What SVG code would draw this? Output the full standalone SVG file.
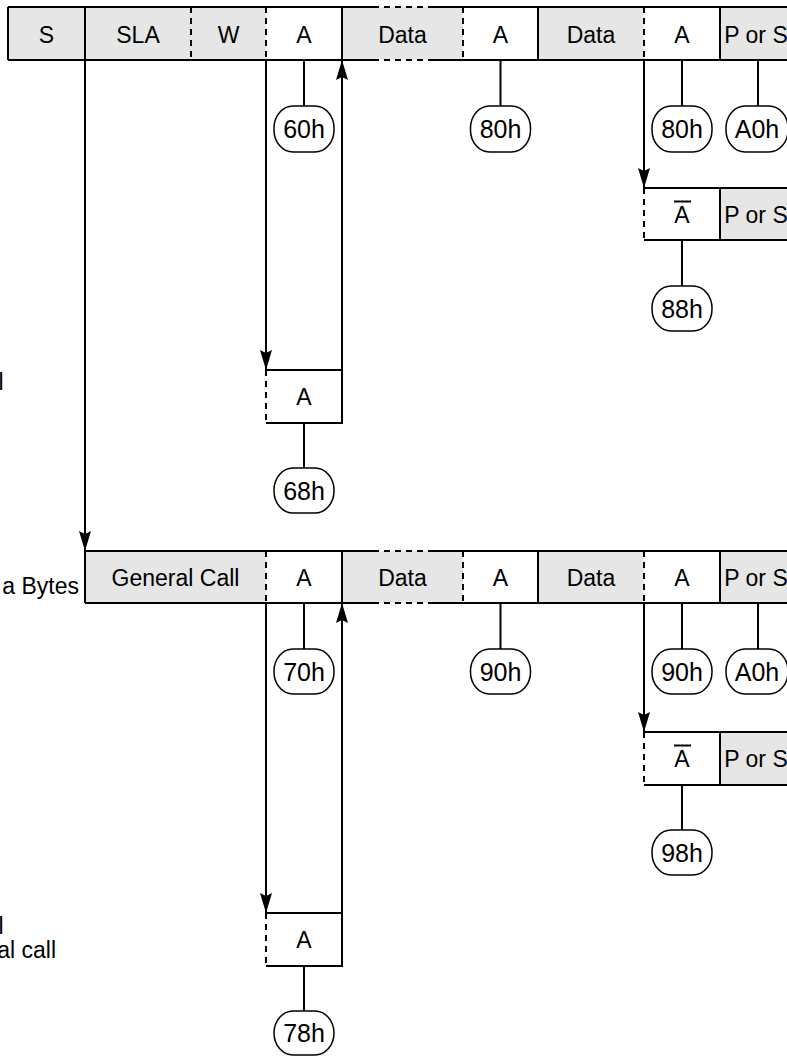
<svg xmlns="http://www.w3.org/2000/svg" width="787" height="1057" viewBox="0 0 787 1057">
<style>
text{font-family:"Liberation Sans",Arial,Helvetica,sans-serif;fill:#000}
.t{font-size:23px;text-anchor:middle}
.n{font-size:25px;text-anchor:middle}
.l{font-size:23px;text-anchor:end}
.g{fill:#e6e6e6;stroke:none}
.w{fill:#fff;stroke:none}
.s{stroke:#000;stroke-width:2;fill:none}
.d{stroke:#000;stroke-width:2;fill:none;stroke-dasharray:6 5}
.c{stroke:#000;stroke-width:2;fill:none}
.o{fill:#fff;stroke:#000;stroke-width:1.5}
</style>
<defs>
<marker id="ah" viewBox="0 0 20 12" refX="20" refY="6" markerWidth="20" markerHeight="12" markerUnits="userSpaceOnUse" orient="auto">
<path d="M0,0 L20,6 L0,12 L3,6 z" fill="#000"/>
</marker>
</defs>

<g id="row1">
<rect class="g" x="8" y="7" width="258" height="53"/>
<rect class="w" x="266" y="7" width="76" height="53"/>
<rect class="g" x="342" y="7" width="121" height="53"/>
<rect class="w" x="463" y="7" width="75" height="53"/>
<rect class="g" x="538" y="7" width="106" height="53"/>
<rect class="w" x="644" y="7" width="76" height="53"/>
<rect class="g" x="720" y="7" width="80" height="53"/>
<path class="s" d="M8,7H373M430,7H800M8,60H373M430,60H800M8,7V60M85,7V60M342,7V60M538,7V60M720,7V60"/>
<path class="d" d="M373,7H430M373,60H430M191,7V60M266,7V60M463,7V60M644,7V60"/>
<text class="t" x="46.5" y="42.5">S</text>
<text class="t" x="138" y="42.5">SLA</text>
<text class="t" x="228.5" y="42.5">W</text>
<text class="t" x="304" y="42.5">A</text>
<text class="t" x="402.5" y="42.5">Data</text>
<text class="t" x="500.5" y="42.5">A</text>
<text class="t" x="591" y="42.5">Data</text>
<text class="t" x="682" y="42.5">A</text>
<text class="t" x="756" y="42.5">P or S</text>
</g>

<g id="row2">
<rect class="g" x="85" y="551" width="181" height="52"/>
<rect class="w" x="266" y="551" width="76" height="52"/>
<rect class="g" x="342" y="551" width="121" height="52"/>
<rect class="w" x="463" y="551" width="75" height="52"/>
<rect class="g" x="538" y="551" width="106" height="52"/>
<rect class="w" x="644" y="551" width="76" height="52"/>
<rect class="g" x="720" y="551" width="80" height="52"/>
<path class="s" d="M85,551H373M430,551H800M85,603H373M430,603H800M85,551V603M342,551V603M538,551V603M720,551V603"/>
<path class="d" d="M373,551H430M373,603H430M266,551V603M463,551V603M644,551V603"/>
<text class="t" x="175.5" y="585.5">General Call</text>
<text class="t" x="304" y="585.5">A</text>
<text class="t" x="402.5" y="585.5">Data</text>
<text class="t" x="500.5" y="585.5">A</text>
<text class="t" x="591" y="585.5">Data</text>
<text class="t" x="682" y="585.5">A</text>
<text class="t" x="756" y="585.5">P or S</text>
</g>

<g id="nack1">
<rect class="w" x="644" y="188" width="76" height="52"/>
<rect class="g" x="720" y="188" width="80" height="52"/>
<path class="s" d="M644,188H800M644,240H800M720,188V240"/>
<path class="d" d="M644,188V240"/>
<text class="t" x="682" y="222.5">A</text>
<path class="c" d="M674,201.5H691" stroke-width="1.5"/>
<text class="t" x="756" y="222.5">P or S</text>
</g>

<g id="nack2">
<rect class="w" x="644" y="732" width="76" height="53"/>
<rect class="g" x="720" y="732" width="80" height="53"/>
<path class="s" d="M644,732H800M644,785H800M720,732V785"/>
<path class="d" d="M644,732V785"/>
<text class="t" x="682" y="767">A</text>
<path class="c" d="M674,745.5H691" stroke-width="1.5"/>
<text class="t" x="756" y="767">P or S</text>
</g>

<g id="ack1">
<rect class="w" x="266" y="370" width="76" height="53"/>
<path class="s" d="M266,370H342V423H266"/>
<path class="d" d="M266,370V423"/>
<text class="t" x="304" y="405">A</text>
</g>

<g id="ack2">
<rect class="w" x="266" y="913" width="76" height="53"/>
<path class="s" d="M266,913H342V966H266"/>
<path class="d" d="M266,913V966"/>
<text class="t" x="304" y="948">A</text>
</g>

<g id="connectors">
<path class="c" d="M85,60V551" marker-end="url(#ah)"/>
<path class="c" d="M266,60V370" marker-end="url(#ah)"/>
<path class="c" d="M342,370V60" marker-end="url(#ah)"/>
<path class="c" d="M644,60V188" marker-end="url(#ah)"/>
<path class="c" d="M266,603V913" marker-end="url(#ah)"/>
<path class="c" d="M342,913V603" marker-end="url(#ah)"/>
<path class="c" d="M644,603V732" marker-end="url(#ah)"/>
<path class="c" d="M304,60V106M500.5,60V106M682,60V106M758,60V106M682,240V286M304,423V468"/>
<path class="c" d="M304,603V649M500.5,603V649M682,603V649M758,603V649M682,785V830M304,966V1011"/>
</g>

<g id="s60"><rect class="o" x="274" y="106" width="60" height="46" rx="19" ry="22"/><text class="n" x="304" y="138">60h</text></g>
<g id="s80a"><rect class="o" x="470.5" y="106" width="60" height="46" rx="19" ry="22"/><text class="n" x="500.5" y="138">80h</text></g>
<g id="s80b"><rect class="o" x="652" y="106" width="60" height="46" rx="19" ry="22"/><text class="n" x="682" y="138">80h</text></g>
<g id="sA0a"><rect class="o" x="726" y="106" width="62" height="46" rx="19" ry="22"/><text class="n" x="757" y="138">A0h</text></g>
<g id="s88"><rect class="o" x="652" y="286" width="60" height="45" rx="19" ry="22"/><text class="n" x="682" y="317.5">88h</text></g>
<g id="s68"><rect class="o" x="274" y="468" width="60" height="45" rx="19" ry="22"/><text class="n" x="304" y="499.5">68h</text></g>
<g id="s70"><rect class="o" x="274" y="649" width="60" height="45" rx="19" ry="22"/><text class="n" x="304" y="680.5">70h</text></g>
<g id="s90a"><rect class="o" x="470.5" y="649" width="60" height="45" rx="19" ry="22"/><text class="n" x="500.5" y="680.5">90h</text></g>
<g id="s90b"><rect class="o" x="652" y="649" width="60" height="45" rx="19" ry="22"/><text class="n" x="682" y="680.5">90h</text></g>
<g id="sA0b"><rect class="o" x="726" y="649" width="62" height="45" rx="19" ry="22"/><text class="n" x="757" y="680.5">A0h</text></g>
<g id="s98"><rect class="o" x="652" y="830" width="60" height="45" rx="19" ry="22"/><text class="n" x="682" y="861.5">98h</text></g>
<g id="s78"><rect class="o" x="274" y="1011" width="60" height="44" rx="19" ry="22"/><text class="n" x="304" y="1042">78h</text></g>

<g id="notes">
<text class="l" x="3.5" y="389.5">l</text>
<text class="l" x="79" y="594">a Bytes</text>
<text class="l" x="3.5" y="933.5">l</text>
<text class="l" x="56" y="957.5">al call</text>
</g>
</svg>
